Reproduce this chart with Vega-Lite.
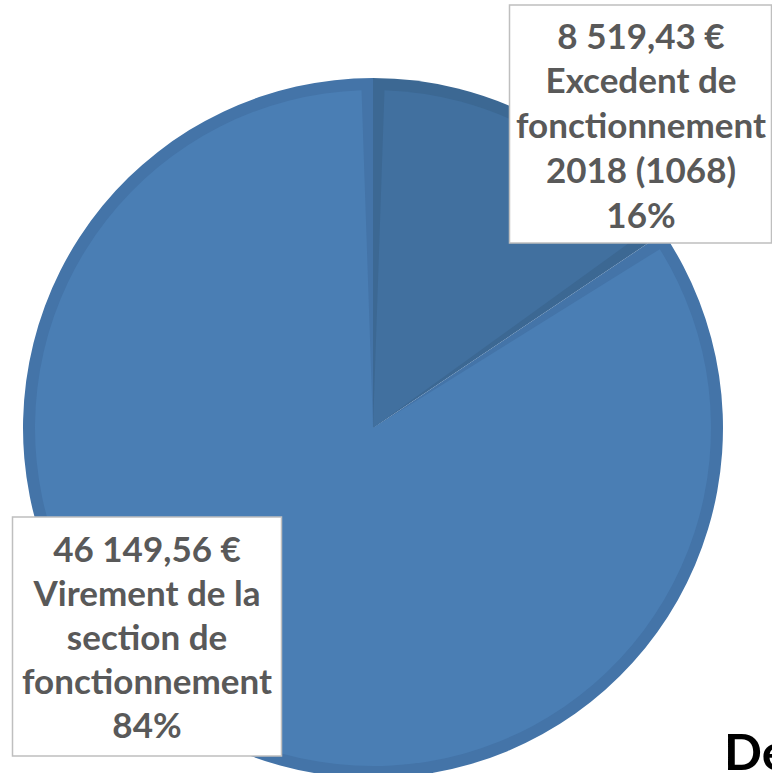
{
  "$schema": "https://vega.github.io/schema/vega-lite/v6.json",
  "width": 746,
  "height": 690,
  "autosize": {"type": "none"},
  "padding": {"left": 0, "top": 83, "right": 26, "bottom": 0},
  "background": "white",
  "config": {"view": {"stroke": null}},
  "data": {
    "values": [
      {"cat": "Excedent de fonctionnement 2018 (1068)", "amount": 8519.43, "label": "8 519,43 €\nExcedent de\nfonctionnement\n2018 (1068)\n16%"},
      {"cat": "Virement de la section de fonctionnement", "amount": 46149.56, "label": "46 149,56 €\nVirement de la\nsection de\nfonctionnement\n84%"}
    ]
  },
  "layer": [
    {
      "mark": {"type": "arc", "outerRadius": 350},
      "encoding": {
        "theta": {"field": "amount", "type": "quantitative", "stack": true},
        "color": {"field": "cat", "type": "nominal", "legend": null,
          "scale": {"domain": ["Excedent de fonctionnement 2018 (1068)", "Virement de la section de fonctionnement"], "range": ["#3C6893", "#4474A8"]}}
      }
    },
    {
      "mark": {"type": "arc", "outerRadius": 338, "padAngle": 0.068},
      "encoding": {
        "theta": {"field": "amount", "type": "quantitative", "stack": true},
        "fill": {"field": "cat", "type": "nominal", "legend": null,
          "scale": {"domain": ["Excedent de fonctionnement 2018 (1068)", "Virement de la section de fonctionnement"], "range": ["#41709F", "#4A7EB4"]}}
      }
    },
    {
      "transform": [{"filter": "datum.amount < 10000"}],
      "mark": {"type": "point", "shape": "M-131,-119H131V119H-131Z", "size": 4, "filled": true, "fill": "white", "stroke": "#BFBFBF", "strokeWidth": 1.5, "opacity": 1, "xOffset": 267.5, "yOffset": -304},
      "encoding": {}
    },
    {
      "transform": [{"filter": "datum.amount > 10000"}],
      "mark": {"type": "point", "shape": "M-134.5,-119.5H134.5V119.5H-134.5Z", "size": 4, "filled": true, "fill": "white", "stroke": "#BFBFBF", "strokeWidth": 1.5, "opacity": 1, "xOffset": -226, "yOffset": 208.5},
      "encoding": {}
    },
    {
      "transform": [{"filter": "datum.amount < 10000"}],
      "mark": {"type": "text", "dx": 268, "dy": -390.5, "lineBreak": "\n", "lineHeight": 44.75, "font": "Lato", "fontWeight": "bold", "fontSize": 35, "color": "#595959", "align": "center", "baseline": "middle"},
      "encoding": {
        "text": {"field": "label", "type": "nominal"}
      }
    },
    {
      "transform": [{"filter": "datum.amount > 10000"}],
      "mark": {"type": "text", "dx": -226, "dy": 123, "lineBreak": "\n", "lineHeight": 44, "font": "Lato", "fontWeight": "bold", "fontSize": 35, "color": "#595959", "align": "center", "baseline": "middle"},
      "encoding": {
        "text": {"field": "label", "type": "nominal"}
      }
    },
    {
      "data": {"values": [{"t": "Dépenses"}]},
      "mark": {"type": "text", "dx": 351, "dy": 342, "font": "Lato", "fontWeight": "bold", "fontSize": 50, "color": "black", "align": "left", "baseline": "alphabetic"},
      "encoding": {"text": {"field": "t", "type": "nominal"}}
    }
  ],
  "resolve": {"scale": {"theta": "independent"}}
}
